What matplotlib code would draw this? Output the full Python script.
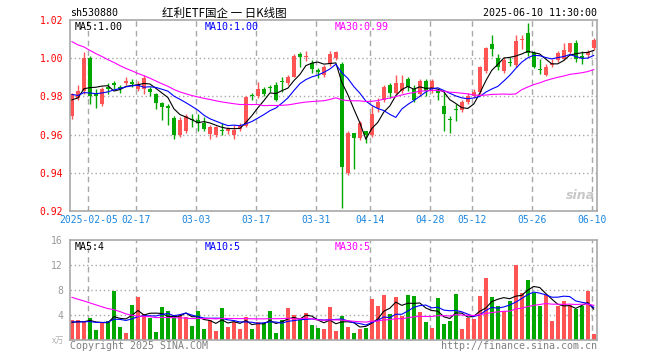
import numpy as np
import pandas as pd
import matplotlib
matplotlib.use("Agg")
import matplotlib.pyplot as plt

# trading days shown (2025)
dates = ["01-23", "01-24", "01-27", "02-05", "02-06", "02-07", "02-10", "02-11", "02-12", "02-13",
         "02-14", "02-17", "02-18", "02-19", "02-20", "02-21", "02-24", "02-25", "02-26", "02-27",
         "02-28", "03-03", "03-04", "03-05", "03-06", "03-07", "03-10", "03-11", "03-12", "03-13",
         "03-14", "03-17", "03-18", "03-19", "03-20", "03-21", "03-24", "03-25", "03-26", "03-27",
         "03-28", "03-31", "04-01", "04-02", "04-03", "04-07", "04-08", "04-09", "04-10", "04-11",
         "04-14", "04-15", "04-16", "04-17", "04-18", "04-21", "04-22", "04-23", "04-24", "04-25",
         "04-28", "04-29", "04-30", "05-06", "05-07", "05-08", "05-09", "05-12", "05-13", "05-14",
         "05-15", "05-16", "05-19", "05-20", "05-21", "05-22", "05-23", "05-26", "05-27", "05-28",
         "05-29", "05-30", "06-03", "06-04", "06-05", "06-06", "06-09", "06-10"]

opens = [0.970, 0.979, 0.983, 1.000, 0.981, 0.976, 0.985, 0.987, 0.985, 0.987,
         0.9875, 0.984, 0.984, 0.984, 0.981, 0.9765, 0.975, 0.9685, 0.960, 0.962,
         0.968, 0.9675, 0.966, 0.9605, 0.960, 0.9625, 0.962, 0.960, 0.963, 0.9645,
         0.9805, 0.980, 0.9837, 0.985, 0.986, 0.988, 0.9868, 0.9903, 1.0022, 1.0008,
         0.9977, 0.994, 0.991, 0.997, 1.000, 0.997, 0.940, 0.961, 0.958, 0.962,
         0.960, 0.974, 0.978, 0.986, 0.982, 0.983, 0.989, 0.984, 0.981, 0.988,
         0.984, 0.983, 0.975, 0.968, 0.9735, 0.973, 0.977, 0.980, 0.9825, 0.9935,
         1.0074, 1.000, 0.9935, 0.998, 0.9964, 1.0095, 1.013, 1.0025, 0.9943, 0.9912,
         0.9965, 0.999, 0.9994, 1.0034, 1.0078, 1.001, 1.0015, 1.0055]
highs = [0.982, 0.986, 1.003, 1.001, 0.984, 0.985, 0.987, 0.988, 0.986, 0.990,
         0.989, 0.988, 0.991, 0.985, 0.982, 0.977, 0.976, 0.970, 0.969, 0.971,
         0.971, 0.971, 0.969, 0.965, 0.9645, 0.966, 0.964, 0.965, 0.966, 0.980,
         0.982, 0.9877, 0.985, 0.9858, 0.9875, 0.990, 0.991, 1.002, 1.003, 1.004,
         0.999, 0.995, 0.9965, 1.004, 1.004, 0.998, 0.962, 0.961, 0.967, 0.962,
         0.975, 0.979, 0.986, 0.987, 0.991, 0.991, 0.990, 0.986, 0.989, 0.989,
         0.989, 0.984, 0.982, 0.970, 0.976, 0.978, 0.982, 0.984, 0.996, 1.006,
         1.012, 1.002, 1.0005, 1.0005, 1.012, 1.012, 1.0183, 1.004, 0.9994, 0.997,
         0.9994, 1.004, 1.008, 1.008, 1.0095, 1.004, 1.0045, 1.0105]
lows = [0.968, 0.978, 0.981, 0.976, 0.974, 0.975, 0.981, 0.984, 0.982, 0.986,
        0.985, 0.983, 0.9815, 0.980, 0.9735, 0.9675, 0.965, 0.9575, 0.959, 0.961,
        0.964, 0.962, 0.962, 0.9575, 0.959, 0.960, 0.9605, 0.9575, 0.962, 0.964,
        0.978, 0.979, 0.980, 0.9825, 0.9775, 0.9825, 0.986, 0.990, 0.9956, 0.9987,
        0.992, 0.9895, 0.990, 0.996, 0.999, 0.9215, 0.939, 0.942, 0.957, 0.9555,
        0.959, 0.972, 0.977, 0.979, 0.981, 0.982, 0.983, 0.977, 0.980, 0.980,
        0.982, 0.978, 0.962, 0.9607, 0.967, 0.972, 0.976, 0.979, 0.981, 0.992,
        1.001, 0.994, 0.9925, 0.996, 0.9956, 1.005, 1.001, 0.9947, 0.9917, 0.9905,
        0.9956, 0.998, 0.999, 1.002, 0.998, 0.997, 1.000, 1.0045]
closes = [0.981, 0.983, 1.000, 0.980, 0.980, 0.984, 0.984, 0.986, 0.984, 0.988,
          0.9865, 0.986, 0.9895, 0.9825, 0.9765, 0.9745, 0.974, 0.960, 0.9675, 0.970,
          0.9675, 0.966, 0.963, 0.964, 0.964, 0.962, 0.963, 0.9626, 0.9645, 0.9795,
          0.980, 0.9837, 0.9813, 0.9845, 0.978, 0.9875, 0.9903, 1.001, 1.0005, 1.0012,
          0.9942, 0.993, 0.9956, 1.002, 1.003, 0.943, 0.961, 0.958, 0.966, 0.960,
          0.971, 0.977, 0.985, 0.982, 0.987, 0.987, 0.985, 0.978, 0.988, 0.983,
          0.988, 0.982, 0.971, 0.9675, 0.973, 0.977, 0.980, 0.9825, 0.9956, 1.0055,
          1.0046, 0.9956, 0.999, 0.9975, 1.009, 1.010, 1.0025, 0.9956, 0.994, 0.9956,
          0.9975, 1.0025, 1.0043, 1.008, 0.9994, 1.000, 1.0035, 1.0095]
volumes = [3.2, 3.2, 2.9, 3.5, 1.6, 2.8, 3.0, 7.8, 2.1, 1.2,
           5.6, 6.9, 4.2, 3.5, 1.3, 5.3, 4.6, 4.0, 4.0, 3.7,
           2.3, 4.6, 1.8, 3.2, 1.4, 5.1, 2.1, 2.9, 1.8, 3.7,
           1.8, 2.9, 2.7, 4.6, 1.2, 3.2, 5.1, 4.0, 3.2, 4.4,
           2.4, 2.0, 1.8, 5.3, 1.5, 3.9, 2.1, 1.1, 1.8, 2.0,
           6.5, 5.5, 7.2, 4.2, 6.9, 3.9, 7.2, 7.1, 4.5, 2.9,
           1.9, 6.7, 2.6, 3.1, 7.4, 1.7, 3.5, 3.3, 7.1, 9.9,
           6.9, 5.4, 4.6, 6.2, 12.0, 7.5, 9.6, 7.5, 5.4, 7.2,
           3.1, 5.4, 6.2, 5.6, 5.0, 5.4, 7.8, 0.95]

# earlier sessions, only used for the moving averages
pre_closes = [1.034, 1.032, 1.035, 1.031, 1.029, 1.033, 1.030, 1.034, 1.032, 1.024,
              1.027, 1.025, 1.022, 1.020, 1.018, 1.014, 1.010, 1.005, 1.000, 0.995,
              0.988, 0.985, 0.982, 0.984, 0.980, 0.978, 0.976, 0.977, 0.979]
pre_volumes = [12.5, 11.0, 13.2, 10.8, 12.1, 11.6, 12.9, 11.3, 12.4, 11.8,
               11.9, 5.2, 4.6, 5.8, 4.1, 5.5, 4.4, 5.0, 4.8, 5.0,
               3.4, 2.6, 3.1, 2.9, 3.0, 2.5, 3.0, 2.4, 2.9]

tick_dates = ["02-05", "02-17", "03-03", "03-17", "03-31", "04-14", "04-28", "05-12", "05-26", "06-10"]
tick_texts = ["2025-02-05", "02-17", "03-03", "03-17", "03-31", "04-14", "04-28", "05-12", "05-26", "06-10"]
price_ticks = [0.92, 0.94, 0.96, 0.98, 1.00, 1.02]
vol_ticks = [4, 8, 12, 16]
ma_windows = [5, 10, 30]
ma_colors = ["black", "#0000ff", "#ff00ff"]
price_ma_text = ["MA5:1.00", "MA10:1.00", "MA30:0.99"]
vol_ma_text = ["MA5:4", "MA10:5", "MA30:5"]

RED = "#ff5454"
GREEN = "#00a800"
GRID = "#a8a8a8"
MONO = "DejaVu Sans Mono"
CJK = ["Noto Sans CJK SC", "DejaVu Sans"]

n = len(dates)
x = np.arange(n)
o = np.array(opens); h = np.array(highs); l = np.array(lows); c = np.array(closes)
v = np.array(volumes)
up = c >= o
colors = np.where(up, RED, GREEN)

all_c = pd.Series(pre_closes + closes)
all_v = pd.Series(pre_volumes + volumes)
k = len(pre_closes)

W, H = 660, 360
fig = plt.figure(figsize=(6.6, 3.6), dpi=100)


def px_axes(left, top, right, bottom):
    return fig.add_axes([left / W, 1 - bottom / H, (right - left) / W, (bottom - top) / H])


ax = px_axes(70, 20, 597, 211)
axv = px_axes(70, 240, 597, 340)

xmin, xmax = -0.33, n - 0.45
tick_pos = [dates.index(d) - 0.25 for d in tick_dates]

for a in (ax, axv):
    a.set_xlim(xmin, xmax)
    for s in a.spines.values():
        s.set_color(GRID)
        s.set_linewidth(1.2)
    for t in tick_pos:
        a.axvline(t, color=GRID, lw=1, ls=(0, (4, 3)), zorder=0)
    a.tick_params(length=0)

# candles
body_low = np.minimum(o, c)
body_h = np.maximum(np.abs(c - o), 0.0004)
ax.vlines(x, l, h, colors=colors, lw=1.0, zorder=2)
ax.bar(x, body_h, bottom=body_low, width=0.68, color=colors, linewidth=0, zorder=2)

for w, col in zip(ma_windows, ma_colors):
    ma = all_c.rolling(w).mean().values[k:]
    ax.plot(x, ma, color=col, lw=0.8, zorder=3)

ax.set_ylim(0.92, 1.02)
ax.set_yticks(price_ticks)
ax.set_yticklabels(["%.2f" % p for p in price_ticks], color="red", family=MONO, fontsize=7)
for p in price_ticks[1:-1]:
    ax.axhline(p, color=GRID, lw=1, ls=(0, (1, 2)), zorder=0)
ax.set_xticks(tick_pos)
ax.set_xticklabels(tick_texts, color="#1a86e0", family=MONO, fontsize=7)
ax.tick_params(axis="y", pad=5)
ax.tick_params(axis="x", pad=3)

# volume
axv.bar(x, v, width=0.72, color=colors, linewidth=0, zorder=2)
for w, col in zip(ma_windows, ma_colors):
    ma = all_v.rolling(w).mean().values[k:]
    axv.plot(x, ma, color=col, lw=0.8, zorder=3)
axv.set_ylim(0, 16)
axv.set_yticks(vol_ticks)
axv.set_yticklabels([str(t) for t in vol_ticks], color="#999999", family=MONO, fontsize=7)
axv.tick_params(axis="y", pad=5)
for t in vol_ticks[:-1]:
    axv.axhline(t, color=GRID, lw=1, ls=(0, (1, 2)), zorder=0)
axv.set_xticks([])

# texts
def ftext(px, py, s, **kw):
    fig.text(px / W, 1 - py / H, s, va="center", **kw)


ftext(70, 13, "sh530880", family=MONO, fontsize=7.2)
ftext(224, 13, "红利ETF国企 一 日K线图", family=CJK, fontsize=8.3, ha="center")
ftext(597, 13, "2025-06-10 11:30:00", family=MONO, fontsize=7.2, ha="right")

label_x = [75, 205, 335]
for lx, s, col in zip(label_x, price_ma_text, ma_colors):
    ftext(lx, 27, s, family=MONO, fontsize=7.2, color=col)
for lx, s, col in zip(label_x, vol_ma_text, ma_colors):
    ftext(lx, 247, s, family=MONO, fontsize=7.2, color=col)

ftext(64, 340, "x万", family=CJK, fontsize=6, color="#b0b0b0", ha="right")
ftext(70, 346, "Copyright 2025 SINA.COM", family=MONO, fontsize=7.2, color="#808080")
ftext(597, 346, "http://finance.sina.com.cn", family=MONO, fontsize=7.2, color="#808080", ha="right")
ftext(595, 196, "sina", family="DejaVu Sans", fontsize=9, color="#c8c8c8",
      ha="right", style="italic", weight="bold")

fig.savefig("out.png", dpi=100)
